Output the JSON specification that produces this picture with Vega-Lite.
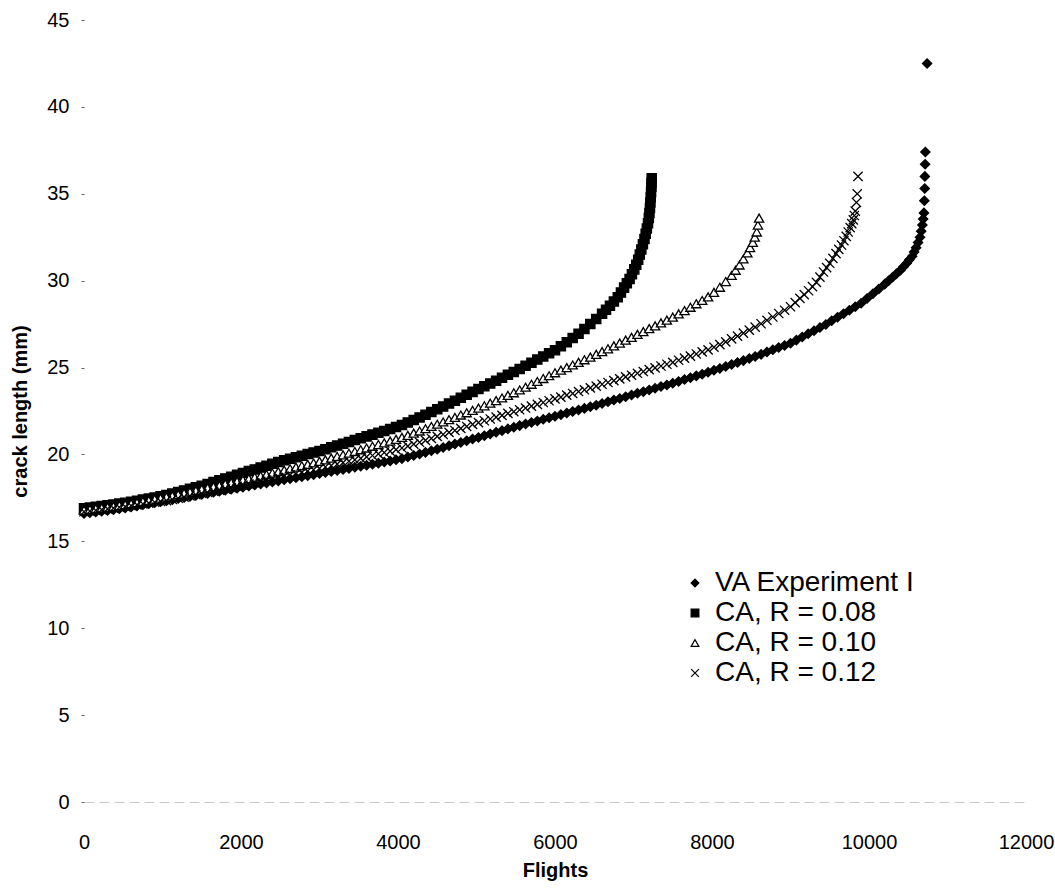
{
  "$schema": "https://vega.github.io/schema/vega-lite/v6.json",
  "width": 942,
  "height": 782,
  "autosize": {"type": "none"},
  "padding": {"left": 84, "top": 20, "right": 29, "bottom": 87},
  "background": "white",
  "config": {
    "view": {"stroke": null},
    "font": "Liberation Sans",
    "axis": {"labelFont": "Liberation Sans", "titleFont": "Liberation Sans", "labelColor": "black", "titleColor": "black", "grid": false},
    "legend": {"labelFont": "Liberation Sans"}
  },
  "data": {"values": [
{"series":"VA Experiment I","flights":0,"crack":16.60},{"series":"VA Experiment I","flights":75,"crack":16.64},{"series":"VA Experiment I","flights":150,"crack":16.69},{"series":"VA Experiment I","flights":225,"crack":16.73},{"series":"VA Experiment I","flights":300,"crack":16.78},{"series":"VA Experiment I","flights":375,"crack":16.82},{"series":"VA Experiment I","flights":450,"crack":16.87},{"series":"VA Experiment I","flights":525,"crack":16.92},{"series":"VA Experiment I","flights":600,"crack":16.98},{"series":"VA Experiment I","flights":675,"crack":17.04},{"series":"VA Experiment I","flights":750,"crack":17.10},{"series":"VA Experiment I","flights":825,"crack":17.16},{"series":"VA Experiment I","flights":900,"crack":17.22},{"series":"VA Experiment I","flights":975,"crack":17.28},{"series":"VA Experiment I","flights":1050,"crack":17.34},{"series":"VA Experiment I","flights":1125,"crack":17.40},{"series":"VA Experiment I","flights":1200,"crack":17.46},{"series":"VA Experiment I","flights":1275,"crack":17.52},{"series":"VA Experiment I","flights":1350,"crack":17.58},{"series":"VA Experiment I","flights":1425,"crack":17.64},{"series":"VA Experiment I","flights":1500,"crack":17.70},{"series":"VA Experiment I","flights":1575,"crack":17.76},{"series":"VA Experiment I","flights":1650,"crack":17.82},{"series":"VA Experiment I","flights":1725,"crack":17.88},{"series":"VA Experiment I","flights":1800,"crack":17.94},{"series":"VA Experiment I","flights":1875,"crack":18.00},{"series":"VA Experiment I","flights":1950,"crack":18.06},{"series":"VA Experiment I","flights":2025,"crack":18.12},{"series":"VA Experiment I","flights":2100,"crack":18.18},{"series":"VA Experiment I","flights":2175,"crack":18.24},{"series":"VA Experiment I","flights":2250,"crack":18.30},{"series":"VA Experiment I","flights":2325,"crack":18.36},{"series":"VA Experiment I","flights":2400,"crack":18.42},{"series":"VA Experiment I","flights":2475,"crack":18.48},{"series":"VA Experiment I","flights":2550,"crack":18.54},{"series":"VA Experiment I","flights":2625,"crack":18.60},{"series":"VA Experiment I","flights":2700,"crack":18.66},{"series":"VA Experiment I","flights":2775,"crack":18.72},{"series":"VA Experiment I","flights":2850,"crack":18.78},{"series":"VA Experiment I","flights":2925,"crack":18.84},{"series":"VA Experiment I","flights":3000,"crack":18.90},{"series":"VA Experiment I","flights":3075,"crack":18.96},{"series":"VA Experiment I","flights":3150,"crack":19.02},{"series":"VA Experiment I","flights":3225,"crack":19.08},{"series":"VA Experiment I","flights":3300,"crack":19.14},{"series":"VA Experiment I","flights":3375,"crack":19.20},{"series":"VA Experiment I","flights":3450,"crack":19.26},{"series":"VA Experiment I","flights":3525,"crack":19.32},{"series":"VA Experiment I","flights":3600,"crack":19.38},{"series":"VA Experiment I","flights":3675,"crack":19.44},{"series":"VA Experiment I","flights":3750,"crack":19.50},{"series":"VA Experiment I","flights":3825,"crack":19.56},{"series":"VA Experiment I","flights":3900,"crack":19.62},{"series":"VA Experiment I","flights":3975,"crack":19.69},{"series":"VA Experiment I","flights":4050,"crack":19.76},{"series":"VA Experiment I","flights":4125,"crack":19.85},{"series":"VA Experiment I","flights":4200,"crack":19.94},{"series":"VA Experiment I","flights":4275,"crack":20.03},{"series":"VA Experiment I","flights":4350,"crack":20.12},{"series":"VA Experiment I","flights":4425,"crack":20.21},{"series":"VA Experiment I","flights":4500,"crack":20.30},{"series":"VA Experiment I","flights":4575,"crack":20.40},{"series":"VA Experiment I","flights":4650,"crack":20.50},{"series":"VA Experiment I","flights":4725,"crack":20.60},{"series":"VA Experiment I","flights":4800,"crack":20.69},{"series":"VA Experiment I","flights":4875,"crack":20.79},{"series":"VA Experiment I","flights":4950,"crack":20.89},{"series":"VA Experiment I","flights":5025,"crack":20.98},{"series":"VA Experiment I","flights":5100,"crack":21.08},{"series":"VA Experiment I","flights":5175,"crack":21.18},{"series":"VA Experiment I","flights":5250,"crack":21.28},{"series":"VA Experiment I","flights":5325,"crack":21.37},{"series":"VA Experiment I","flights":5400,"crack":21.47},{"series":"VA Experiment I","flights":5475,"crack":21.56},{"series":"VA Experiment I","flights":5550,"crack":21.66},{"series":"VA Experiment I","flights":5625,"crack":21.75},{"series":"VA Experiment I","flights":5700,"crack":21.84},{"series":"VA Experiment I","flights":5775,"crack":21.93},{"series":"VA Experiment I","flights":5850,"crack":22.02},{"series":"VA Experiment I","flights":5925,"crack":22.11},{"series":"VA Experiment I","flights":6000,"crack":22.20},{"series":"VA Experiment I","flights":6075,"crack":22.29},{"series":"VA Experiment I","flights":6150,"crack":22.38},{"series":"VA Experiment I","flights":6225,"crack":22.47},{"series":"VA Experiment I","flights":6300,"crack":22.56},{"series":"VA Experiment I","flights":6375,"crack":22.65},{"series":"VA Experiment I","flights":6450,"crack":22.74},{"series":"VA Experiment I","flights":6525,"crack":22.83},{"series":"VA Experiment I","flights":6600,"crack":22.93},{"series":"VA Experiment I","flights":6675,"crack":23.03},{"series":"VA Experiment I","flights":6750,"crack":23.13},{"series":"VA Experiment I","flights":6825,"crack":23.22},{"series":"VA Experiment I","flights":6900,"crack":23.32},{"series":"VA Experiment I","flights":6975,"crack":23.42},{"series":"VA Experiment I","flights":7050,"crack":23.52},{"series":"VA Experiment I","flights":7125,"crack":23.61},{"series":"VA Experiment I","flights":7200,"crack":23.71},{"series":"VA Experiment I","flights":7275,"crack":23.81},{"series":"VA Experiment I","flights":7350,"crack":23.91},{"series":"VA Experiment I","flights":7425,"crack":24.00},{"series":"VA Experiment I","flights":7500,"crack":24.10},{"series":"VA Experiment I","flights":7575,"crack":24.20},{"series":"VA Experiment I","flights":7650,"crack":24.31},{"series":"VA Experiment I","flights":7725,"crack":24.41},{"series":"VA Experiment I","flights":7800,"crack":24.52},{"series":"VA Experiment I","flights":7875,"crack":24.62},{"series":"VA Experiment I","flights":7950,"crack":24.73},{"series":"VA Experiment I","flights":8025,"crack":24.84},{"series":"VA Experiment I","flights":8100,"crack":24.95},{"series":"VA Experiment I","flights":8175,"crack":25.06},{"series":"VA Experiment I","flights":8250,"crack":25.18},{"series":"VA Experiment I","flights":8325,"crack":25.29},{"series":"VA Experiment I","flights":8400,"crack":25.40},{"series":"VA Experiment I","flights":8475,"crack":25.52},{"series":"VA Experiment I","flights":8550,"crack":25.64},{"series":"VA Experiment I","flights":8625,"crack":25.76},{"series":"VA Experiment I","flights":8700,"crack":25.89},{"series":"VA Experiment I","flights":8775,"crack":26.02},{"series":"VA Experiment I","flights":8850,"crack":26.15},{"series":"VA Experiment I","flights":8925,"crack":26.27},{"series":"VA Experiment I","flights":9000,"crack":26.40},{"series":"VA Experiment I","flights":9075,"crack":26.58},{"series":"VA Experiment I","flights":9150,"crack":26.76},{"series":"VA Experiment I","flights":9225,"crack":26.94},{"series":"VA Experiment I","flights":9300,"crack":27.12},{"series":"VA Experiment I","flights":9375,"crack":27.30},{"series":"VA Experiment I","flights":9450,"crack":27.48},{"series":"VA Experiment I","flights":9525,"crack":27.69},{"series":"VA Experiment I","flights":9600,"crack":27.90},{"series":"VA Experiment I","flights":9675,"crack":28.10},{"series":"VA Experiment I","flights":9750,"crack":28.30},{"series":"VA Experiment I","flights":9825,"crack":28.50},{"series":"VA Experiment I","flights":9900,"crack":28.70},{"series":"VA Experiment I","flights":9975,"crack":28.97},{"series":"VA Experiment I","flights":10050,"crack":29.25},{"series":"VA Experiment I","flights":10125,"crack":29.52},{"series":"VA Experiment I","flights":10200,"crack":29.80},{"series":"VA Experiment I","flights":10250,"crack":30.00},{"series":"VA Experiment I","flights":10300,"crack":30.20},{"series":"VA Experiment I","flights":10350,"crack":30.40},{"series":"VA Experiment I","flights":10400,"crack":30.60},{"series":"VA Experiment I","flights":10440,"crack":30.80},{"series":"VA Experiment I","flights":10480,"crack":31.00},{"series":"VA Experiment I","flights":10515,"crack":31.20},{"series":"VA Experiment I","flights":10550,"crack":31.40},{"series":"VA Experiment I","flights":10575,"crack":31.65},{"series":"VA Experiment I","flights":10600,"crack":31.90},{"series":"VA Experiment I","flights":10625,"crack":32.20},{"series":"VA Experiment I","flights":10650,"crack":32.50},{"series":"VA Experiment I","flights":10665,"crack":32.85},{"series":"VA Experiment I","flights":10680,"crack":33.20},{"series":"VA Experiment I","flights":10690,"crack":33.55},{"series":"VA Experiment I","flights":10700,"crack":33.90},{"series":"VA Experiment I","flights":10705,"crack":34.60},{"series":"VA Experiment I","flights":10710,"crack":35.30},{"series":"VA Experiment I","flights":10712,"crack":36.00},{"series":"VA Experiment I","flights":10715,"crack":36.70},{"series":"VA Experiment I","flights":10718,"crack":37.40},{"series":"VA Experiment I","flights":10740,"crack":42.50},
{"series":"CA, R = 0.08","flights":0,"crack":16.90},{"series":"CA, R = 0.08","flights":75,"crack":16.94},{"series":"CA, R = 0.08","flights":150,"crack":16.99},{"series":"CA, R = 0.08","flights":225,"crack":17.03},{"series":"CA, R = 0.08","flights":300,"crack":17.08},{"series":"CA, R = 0.08","flights":375,"crack":17.12},{"series":"CA, R = 0.08","flights":450,"crack":17.17},{"series":"CA, R = 0.08","flights":525,"crack":17.22},{"series":"CA, R = 0.08","flights":600,"crack":17.28},{"series":"CA, R = 0.08","flights":675,"crack":17.34},{"series":"CA, R = 0.08","flights":750,"crack":17.40},{"series":"CA, R = 0.08","flights":825,"crack":17.46},{"series":"CA, R = 0.08","flights":900,"crack":17.52},{"series":"CA, R = 0.08","flights":975,"crack":17.59},{"series":"CA, R = 0.08","flights":1050,"crack":17.66},{"series":"CA, R = 0.08","flights":1125,"crack":17.75},{"series":"CA, R = 0.08","flights":1200,"crack":17.84},{"series":"CA, R = 0.08","flights":1275,"crack":17.93},{"series":"CA, R = 0.08","flights":1350,"crack":18.02},{"series":"CA, R = 0.08","flights":1425,"crack":18.11},{"series":"CA, R = 0.08","flights":1500,"crack":18.20},{"series":"CA, R = 0.08","flights":1575,"crack":18.30},{"series":"CA, R = 0.08","flights":1650,"crack":18.41},{"series":"CA, R = 0.08","flights":1725,"crack":18.51},{"series":"CA, R = 0.08","flights":1800,"crack":18.62},{"series":"CA, R = 0.08","flights":1875,"crack":18.72},{"series":"CA, R = 0.08","flights":1950,"crack":18.83},{"series":"CA, R = 0.08","flights":2025,"crack":18.93},{"series":"CA, R = 0.08","flights":2100,"crack":19.04},{"series":"CA, R = 0.08","flights":2175,"crack":19.14},{"series":"CA, R = 0.08","flights":2250,"crack":19.25},{"series":"CA, R = 0.08","flights":2325,"crack":19.35},{"series":"CA, R = 0.08","flights":2400,"crack":19.46},{"series":"CA, R = 0.08","flights":2475,"crack":19.56},{"series":"CA, R = 0.08","flights":2550,"crack":19.66},{"series":"CA, R = 0.08","flights":2625,"crack":19.75},{"series":"CA, R = 0.08","flights":2700,"crack":19.84},{"series":"CA, R = 0.08","flights":2775,"crack":19.93},{"series":"CA, R = 0.08","flights":2850,"crack":20.02},{"series":"CA, R = 0.08","flights":2925,"crack":20.11},{"series":"CA, R = 0.08","flights":3000,"crack":20.20},{"series":"CA, R = 0.08","flights":3075,"crack":20.30},{"series":"CA, R = 0.08","flights":3150,"crack":20.41},{"series":"CA, R = 0.08","flights":3225,"crack":20.51},{"series":"CA, R = 0.08","flights":3300,"crack":20.62},{"series":"CA, R = 0.08","flights":3375,"crack":20.72},{"series":"CA, R = 0.08","flights":3450,"crack":20.83},{"series":"CA, R = 0.08","flights":3525,"crack":20.93},{"series":"CA, R = 0.08","flights":3600,"crack":21.04},{"series":"CA, R = 0.08","flights":3675,"crack":21.14},{"series":"CA, R = 0.08","flights":3750,"crack":21.25},{"series":"CA, R = 0.08","flights":3825,"crack":21.35},{"series":"CA, R = 0.08","flights":3900,"crack":21.46},{"series":"CA, R = 0.08","flights":3975,"crack":21.58},{"series":"CA, R = 0.08","flights":4050,"crack":21.70},{"series":"CA, R = 0.08","flights":4125,"crack":21.84},{"series":"CA, R = 0.08","flights":4200,"crack":21.98},{"series":"CA, R = 0.08","flights":4275,"crack":22.13},{"series":"CA, R = 0.08","flights":4350,"crack":22.28},{"series":"CA, R = 0.08","flights":4425,"crack":22.44},{"series":"CA, R = 0.08","flights":4500,"crack":22.60},{"series":"CA, R = 0.08","flights":4575,"crack":22.76},{"series":"CA, R = 0.08","flights":4650,"crack":22.93},{"series":"CA, R = 0.08","flights":4725,"crack":23.09},{"series":"CA, R = 0.08","flights":4800,"crack":23.26},{"series":"CA, R = 0.08","flights":4875,"crack":23.43},{"series":"CA, R = 0.08","flights":4950,"crack":23.60},{"series":"CA, R = 0.08","flights":5025,"crack":23.76},{"series":"CA, R = 0.08","flights":5100,"crack":23.92},{"series":"CA, R = 0.08","flights":5175,"crack":24.08},{"series":"CA, R = 0.08","flights":5250,"crack":24.24},{"series":"CA, R = 0.08","flights":5325,"crack":24.41},{"series":"CA, R = 0.08","flights":5400,"crack":24.58},{"series":"CA, R = 0.08","flights":5475,"crack":24.75},{"series":"CA, R = 0.08","flights":5550,"crack":24.92},{"series":"CA, R = 0.08","flights":5625,"crack":25.10},{"series":"CA, R = 0.08","flights":5700,"crack":25.28},{"series":"CA, R = 0.08","flights":5775,"crack":25.46},{"series":"CA, R = 0.08","flights":5850,"crack":25.64},{"series":"CA, R = 0.08","flights":5925,"crack":25.82},{"series":"CA, R = 0.08","flights":6000,"crack":26.00},{"series":"CA, R = 0.08","flights":6075,"crack":26.22},{"series":"CA, R = 0.08","flights":6150,"crack":26.45},{"series":"CA, R = 0.08","flights":6225,"crack":26.70},{"series":"CA, R = 0.08","flights":6300,"crack":26.95},{"series":"CA, R = 0.08","flights":6375,"crack":27.22},{"series":"CA, R = 0.08","flights":6450,"crack":27.50},{"series":"CA, R = 0.08","flights":6525,"crack":27.80},{"series":"CA, R = 0.08","flights":6600,"crack":28.10},{"series":"CA, R = 0.08","flights":6650,"crack":28.32},{"series":"CA, R = 0.08","flights":6700,"crack":28.55},{"series":"CA, R = 0.08","flights":6750,"crack":28.80},{"series":"CA, R = 0.08","flights":6800,"crack":29.05},{"series":"CA, R = 0.08","flights":6840,"crack":29.32},{"series":"CA, R = 0.08","flights":6880,"crack":29.60},{"series":"CA, R = 0.08","flights":6915,"crack":29.85},{"series":"CA, R = 0.08","flights":6950,"crack":30.10},{"series":"CA, R = 0.08","flights":6980,"crack":30.37},{"series":"CA, R = 0.08","flights":7010,"crack":30.65},{"series":"CA, R = 0.08","flights":7035,"crack":30.92},{"series":"CA, R = 0.08","flights":7060,"crack":31.20},{"series":"CA, R = 0.08","flights":7080,"crack":31.50},{"series":"CA, R = 0.08","flights":7100,"crack":31.80},{"series":"CA, R = 0.08","flights":7120,"crack":32.10},{"series":"CA, R = 0.08","flights":7140,"crack":32.40},{"series":"CA, R = 0.08","flights":7155,"crack":32.70},{"series":"CA, R = 0.08","flights":7170,"crack":33.00},{"series":"CA, R = 0.08","flights":7185,"crack":33.30},{"series":"CA, R = 0.08","flights":7195,"crack":33.60},{"series":"CA, R = 0.08","flights":7203,"crack":33.90},{"series":"CA, R = 0.08","flights":7210,"crack":34.20},{"series":"CA, R = 0.08","flights":7215,"crack":34.50},{"series":"CA, R = 0.08","flights":7220,"crack":34.80},{"series":"CA, R = 0.08","flights":7224,"crack":35.10},{"series":"CA, R = 0.08","flights":7228,"crack":35.40},{"series":"CA, R = 0.08","flights":7230,"crack":35.65},{"series":"CA, R = 0.08","flights":7232,"crack":35.90},
{"series":"CA, R = 0.10","flights":0,"crack":16.80},{"series":"CA, R = 0.10","flights":75,"crack":16.84},{"series":"CA, R = 0.10","flights":150,"crack":16.88},{"series":"CA, R = 0.10","flights":225,"crack":16.92},{"series":"CA, R = 0.10","flights":300,"crack":16.97},{"series":"CA, R = 0.10","flights":375,"crack":17.01},{"series":"CA, R = 0.10","flights":450,"crack":17.06},{"series":"CA, R = 0.10","flights":525,"crack":17.11},{"series":"CA, R = 0.10","flights":600,"crack":17.17},{"series":"CA, R = 0.10","flights":675,"crack":17.23},{"series":"CA, R = 0.10","flights":750,"crack":17.30},{"series":"CA, R = 0.10","flights":825,"crack":17.36},{"series":"CA, R = 0.10","flights":900,"crack":17.43},{"series":"CA, R = 0.10","flights":975,"crack":17.49},{"series":"CA, R = 0.10","flights":1050,"crack":17.55},{"series":"CA, R = 0.10","flights":1125,"crack":17.62},{"series":"CA, R = 0.10","flights":1200,"crack":17.70},{"series":"CA, R = 0.10","flights":1275,"crack":17.77},{"series":"CA, R = 0.10","flights":1350,"crack":17.85},{"series":"CA, R = 0.10","flights":1425,"crack":17.92},{"series":"CA, R = 0.10","flights":1500,"crack":18.00},{"series":"CA, R = 0.10","flights":1575,"crack":18.07},{"series":"CA, R = 0.10","flights":1650,"crack":18.15},{"series":"CA, R = 0.10","flights":1725,"crack":18.22},{"series":"CA, R = 0.10","flights":1800,"crack":18.30},{"series":"CA, R = 0.10","flights":1875,"crack":18.37},{"series":"CA, R = 0.10","flights":1950,"crack":18.45},{"series":"CA, R = 0.10","flights":2025,"crack":18.53},{"series":"CA, R = 0.10","flights":2100,"crack":18.61},{"series":"CA, R = 0.10","flights":2175,"crack":18.69},{"series":"CA, R = 0.10","flights":2250,"crack":18.77},{"series":"CA, R = 0.10","flights":2325,"crack":18.85},{"series":"CA, R = 0.10","flights":2400,"crack":18.93},{"series":"CA, R = 0.10","flights":2475,"crack":19.01},{"series":"CA, R = 0.10","flights":2550,"crack":19.10},{"series":"CA, R = 0.10","flights":2625,"crack":19.18},{"series":"CA, R = 0.10","flights":2700,"crack":19.27},{"series":"CA, R = 0.10","flights":2775,"crack":19.35},{"series":"CA, R = 0.10","flights":2850,"crack":19.43},{"series":"CA, R = 0.10","flights":2925,"crack":19.51},{"series":"CA, R = 0.10","flights":3000,"crack":19.60},{"series":"CA, R = 0.10","flights":3075,"crack":19.69},{"series":"CA, R = 0.10","flights":3150,"crack":19.79},{"series":"CA, R = 0.10","flights":3225,"crack":19.88},{"series":"CA, R = 0.10","flights":3300,"crack":19.98},{"series":"CA, R = 0.10","flights":3375,"crack":20.07},{"series":"CA, R = 0.10","flights":3450,"crack":20.17},{"series":"CA, R = 0.10","flights":3525,"crack":20.27},{"series":"CA, R = 0.10","flights":3600,"crack":20.37},{"series":"CA, R = 0.10","flights":3675,"crack":20.47},{"series":"CA, R = 0.10","flights":3750,"crack":20.57},{"series":"CA, R = 0.10","flights":3825,"crack":20.67},{"series":"CA, R = 0.10","flights":3900,"crack":20.77},{"series":"CA, R = 0.10","flights":3975,"crack":20.87},{"series":"CA, R = 0.10","flights":4050,"crack":20.98},{"series":"CA, R = 0.10","flights":4125,"crack":21.10},{"series":"CA, R = 0.10","flights":4200,"crack":21.23},{"series":"CA, R = 0.10","flights":4275,"crack":21.35},{"series":"CA, R = 0.10","flights":4350,"crack":21.48},{"series":"CA, R = 0.10","flights":4425,"crack":21.61},{"series":"CA, R = 0.10","flights":4500,"crack":21.74},{"series":"CA, R = 0.10","flights":4575,"crack":21.87},{"series":"CA, R = 0.10","flights":4650,"crack":22.00},{"series":"CA, R = 0.10","flights":4725,"crack":22.13},{"series":"CA, R = 0.10","flights":4800,"crack":22.27},{"series":"CA, R = 0.10","flights":4875,"crack":22.40},{"series":"CA, R = 0.10","flights":4950,"crack":22.54},{"series":"CA, R = 0.10","flights":5025,"crack":22.67},{"series":"CA, R = 0.10","flights":5100,"crack":22.80},{"series":"CA, R = 0.10","flights":5175,"crack":22.95},{"series":"CA, R = 0.10","flights":5250,"crack":23.10},{"series":"CA, R = 0.10","flights":5325,"crack":23.25},{"series":"CA, R = 0.10","flights":5400,"crack":23.40},{"series":"CA, R = 0.10","flights":5475,"crack":23.55},{"series":"CA, R = 0.10","flights":5550,"crack":23.71},{"series":"CA, R = 0.10","flights":5625,"crack":23.87},{"series":"CA, R = 0.10","flights":5700,"crack":24.04},{"series":"CA, R = 0.10","flights":5775,"crack":24.20},{"series":"CA, R = 0.10","flights":5850,"crack":24.37},{"series":"CA, R = 0.10","flights":5925,"crack":24.53},{"series":"CA, R = 0.10","flights":6000,"crack":24.70},{"series":"CA, R = 0.10","flights":6075,"crack":24.85},{"series":"CA, R = 0.10","flights":6150,"crack":25.00},{"series":"CA, R = 0.10","flights":6225,"crack":25.15},{"series":"CA, R = 0.10","flights":6300,"crack":25.30},{"series":"CA, R = 0.10","flights":6375,"crack":25.45},{"series":"CA, R = 0.10","flights":6450,"crack":25.60},{"series":"CA, R = 0.10","flights":6525,"crack":25.76},{"series":"CA, R = 0.10","flights":6600,"crack":25.92},{"series":"CA, R = 0.10","flights":6675,"crack":26.08},{"series":"CA, R = 0.10","flights":6750,"crack":26.25},{"series":"CA, R = 0.10","flights":6825,"crack":26.41},{"series":"CA, R = 0.10","flights":6900,"crack":26.58},{"series":"CA, R = 0.10","flights":6975,"crack":26.74},{"series":"CA, R = 0.10","flights":7050,"crack":26.91},{"series":"CA, R = 0.10","flights":7125,"crack":27.07},{"series":"CA, R = 0.10","flights":7200,"crack":27.24},{"series":"CA, R = 0.10","flights":7275,"crack":27.40},{"series":"CA, R = 0.10","flights":7350,"crack":27.57},{"series":"CA, R = 0.10","flights":7425,"crack":27.73},{"series":"CA, R = 0.10","flights":7500,"crack":27.90},{"series":"CA, R = 0.10","flights":7575,"crack":28.09},{"series":"CA, R = 0.10","flights":7650,"crack":28.28},{"series":"CA, R = 0.10","flights":7725,"crack":28.47},{"series":"CA, R = 0.10","flights":7800,"crack":28.67},{"series":"CA, R = 0.10","flights":7875,"crack":28.86},{"series":"CA, R = 0.10","flights":7950,"crack":29.07},{"series":"CA, R = 0.10","flights":8025,"crack":29.33},{"series":"CA, R = 0.10","flights":8100,"crack":29.62},{"series":"CA, R = 0.10","flights":8175,"crack":29.95},{"series":"CA, R = 0.10","flights":8250,"crack":30.30},{"series":"CA, R = 0.10","flights":8300,"crack":30.60},{"series":"CA, R = 0.10","flights":8350,"crack":30.90},{"series":"CA, R = 0.10","flights":8400,"crack":31.25},{"series":"CA, R = 0.10","flights":8450,"crack":31.60},{"series":"CA, R = 0.10","flights":8485,"crack":31.90},{"series":"CA, R = 0.10","flights":8520,"crack":32.20},{"series":"CA, R = 0.10","flights":8545,"crack":32.50},{"series":"CA, R = 0.10","flights":8570,"crack":32.80},{"series":"CA, R = 0.10","flights":8585,"crack":33.20},{"series":"CA, R = 0.10","flights":8600,"crack":33.60},
{"series":"CA, R = 0.12","flights":0,"crack":16.70},{"series":"CA, R = 0.12","flights":75,"crack":16.74},{"series":"CA, R = 0.12","flights":150,"crack":16.78},{"series":"CA, R = 0.12","flights":225,"crack":16.82},{"series":"CA, R = 0.12","flights":300,"crack":16.87},{"series":"CA, R = 0.12","flights":375,"crack":16.91},{"series":"CA, R = 0.12","flights":450,"crack":16.96},{"series":"CA, R = 0.12","flights":525,"crack":17.00},{"series":"CA, R = 0.12","flights":600,"crack":17.05},{"series":"CA, R = 0.12","flights":675,"crack":17.10},{"series":"CA, R = 0.12","flights":750,"crack":17.15},{"series":"CA, R = 0.12","flights":825,"crack":17.20},{"series":"CA, R = 0.12","flights":900,"crack":17.25},{"series":"CA, R = 0.12","flights":975,"crack":17.30},{"series":"CA, R = 0.12","flights":1050,"crack":17.34},{"series":"CA, R = 0.12","flights":1125,"crack":17.41},{"series":"CA, R = 0.12","flights":1200,"crack":17.48},{"series":"CA, R = 0.12","flights":1275,"crack":17.54},{"series":"CA, R = 0.12","flights":1350,"crack":17.61},{"series":"CA, R = 0.12","flights":1425,"crack":17.68},{"series":"CA, R = 0.12","flights":1500,"crack":17.75},{"series":"CA, R = 0.12","flights":1575,"crack":17.81},{"series":"CA, R = 0.12","flights":1650,"crack":17.88},{"series":"CA, R = 0.12","flights":1725,"crack":17.95},{"series":"CA, R = 0.12","flights":1800,"crack":18.02},{"series":"CA, R = 0.12","flights":1875,"crack":18.09},{"series":"CA, R = 0.12","flights":1950,"crack":18.16},{"series":"CA, R = 0.12","flights":2025,"crack":18.23},{"series":"CA, R = 0.12","flights":2100,"crack":18.30},{"series":"CA, R = 0.12","flights":2175,"crack":18.37},{"series":"CA, R = 0.12","flights":2250,"crack":18.45},{"series":"CA, R = 0.12","flights":2325,"crack":18.52},{"series":"CA, R = 0.12","flights":2400,"crack":18.60},{"series":"CA, R = 0.12","flights":2475,"crack":18.67},{"series":"CA, R = 0.12","flights":2550,"crack":18.75},{"series":"CA, R = 0.12","flights":2625,"crack":18.82},{"series":"CA, R = 0.12","flights":2700,"crack":18.90},{"series":"CA, R = 0.12","flights":2775,"crack":18.97},{"series":"CA, R = 0.12","flights":2850,"crack":19.05},{"series":"CA, R = 0.12","flights":2925,"crack":19.12},{"series":"CA, R = 0.12","flights":3000,"crack":19.20},{"series":"CA, R = 0.12","flights":3075,"crack":19.28},{"series":"CA, R = 0.12","flights":3150,"crack":19.36},{"series":"CA, R = 0.12","flights":3225,"crack":19.44},{"series":"CA, R = 0.12","flights":3300,"crack":19.53},{"series":"CA, R = 0.12","flights":3375,"crack":19.61},{"series":"CA, R = 0.12","flights":3450,"crack":19.69},{"series":"CA, R = 0.12","flights":3525,"crack":19.77},{"series":"CA, R = 0.12","flights":3600,"crack":19.86},{"series":"CA, R = 0.12","flights":3675,"crack":19.94},{"series":"CA, R = 0.12","flights":3750,"crack":20.03},{"series":"CA, R = 0.12","flights":3825,"crack":20.11},{"series":"CA, R = 0.12","flights":3900,"crack":20.19},{"series":"CA, R = 0.12","flights":3975,"crack":20.28},{"series":"CA, R = 0.12","flights":4050,"crack":20.37},{"series":"CA, R = 0.12","flights":4125,"crack":20.48},{"series":"CA, R = 0.12","flights":4200,"crack":20.59},{"series":"CA, R = 0.12","flights":4275,"crack":20.70},{"series":"CA, R = 0.12","flights":4350,"crack":20.81},{"series":"CA, R = 0.12","flights":4425,"crack":20.92},{"series":"CA, R = 0.12","flights":4500,"crack":21.04},{"series":"CA, R = 0.12","flights":4575,"crack":21.15},{"series":"CA, R = 0.12","flights":4650,"crack":21.27},{"series":"CA, R = 0.12","flights":4725,"crack":21.38},{"series":"CA, R = 0.12","flights":4800,"crack":21.50},{"series":"CA, R = 0.12","flights":4875,"crack":21.61},{"series":"CA, R = 0.12","flights":4950,"crack":21.73},{"series":"CA, R = 0.12","flights":5025,"crack":21.83},{"series":"CA, R = 0.12","flights":5100,"crack":21.94},{"series":"CA, R = 0.12","flights":5175,"crack":22.04},{"series":"CA, R = 0.12","flights":5250,"crack":22.15},{"series":"CA, R = 0.12","flights":5325,"crack":22.25},{"series":"CA, R = 0.12","flights":5400,"crack":22.36},{"series":"CA, R = 0.12","flights":5475,"crack":22.46},{"series":"CA, R = 0.12","flights":5550,"crack":22.57},{"series":"CA, R = 0.12","flights":5625,"crack":22.67},{"series":"CA, R = 0.12","flights":5700,"crack":22.78},{"series":"CA, R = 0.12","flights":5775,"crack":22.88},{"series":"CA, R = 0.12","flights":5850,"crack":22.99},{"series":"CA, R = 0.12","flights":5925,"crack":23.09},{"series":"CA, R = 0.12","flights":6000,"crack":23.20},{"series":"CA, R = 0.12","flights":6075,"crack":23.30},{"series":"CA, R = 0.12","flights":6150,"crack":23.41},{"series":"CA, R = 0.12","flights":6225,"crack":23.51},{"series":"CA, R = 0.12","flights":6300,"crack":23.62},{"series":"CA, R = 0.12","flights":6375,"crack":23.72},{"series":"CA, R = 0.12","flights":6450,"crack":23.83},{"series":"CA, R = 0.12","flights":6525,"crack":23.93},{"series":"CA, R = 0.12","flights":6600,"crack":24.04},{"series":"CA, R = 0.12","flights":6675,"crack":24.14},{"series":"CA, R = 0.12","flights":6750,"crack":24.25},{"series":"CA, R = 0.12","flights":6825,"crack":24.35},{"series":"CA, R = 0.12","flights":6900,"crack":24.46},{"series":"CA, R = 0.12","flights":6975,"crack":24.56},{"series":"CA, R = 0.12","flights":7050,"crack":24.67},{"series":"CA, R = 0.12","flights":7125,"crack":24.77},{"series":"CA, R = 0.12","flights":7200,"crack":24.88},{"series":"CA, R = 0.12","flights":7275,"crack":24.98},{"series":"CA, R = 0.12","flights":7350,"crack":25.09},{"series":"CA, R = 0.12","flights":7425,"crack":25.19},{"series":"CA, R = 0.12","flights":7500,"crack":25.30},{"series":"CA, R = 0.12","flights":7575,"crack":25.42},{"series":"CA, R = 0.12","flights":7650,"crack":25.54},{"series":"CA, R = 0.12","flights":7725,"crack":25.66},{"series":"CA, R = 0.12","flights":7800,"crack":25.78},{"series":"CA, R = 0.12","flights":7875,"crack":25.90},{"series":"CA, R = 0.12","flights":7950,"crack":26.02},{"series":"CA, R = 0.12","flights":8025,"crack":26.17},{"series":"CA, R = 0.12","flights":8100,"crack":26.32},{"series":"CA, R = 0.12","flights":8175,"crack":26.48},{"series":"CA, R = 0.12","flights":8250,"crack":26.65},{"series":"CA, R = 0.12","flights":8325,"crack":26.81},{"series":"CA, R = 0.12","flights":8400,"crack":26.98},{"series":"CA, R = 0.12","flights":8475,"crack":27.15},{"series":"CA, R = 0.12","flights":8550,"crack":27.33},{"series":"CA, R = 0.12","flights":8625,"crack":27.52},{"series":"CA, R = 0.12","flights":8700,"crack":27.72},{"series":"CA, R = 0.12","flights":8775,"crack":27.91},{"series":"CA, R = 0.12","flights":8850,"crack":28.11},{"series":"CA, R = 0.12","flights":8925,"crack":28.30},{"series":"CA, R = 0.12","flights":9000,"crack":28.50},{"series":"CA, R = 0.12","flights":9060,"crack":28.74},{"series":"CA, R = 0.12","flights":9120,"crack":28.98},{"series":"CA, R = 0.12","flights":9175,"crack":29.20},{"series":"CA, R = 0.12","flights":9230,"crack":29.42},{"series":"CA, R = 0.12","flights":9280,"crack":29.66},{"series":"CA, R = 0.12","flights":9330,"crack":29.90},{"series":"CA, R = 0.12","flights":9375,"crack":30.20},{"series":"CA, R = 0.12","flights":9420,"crack":30.50},{"series":"CA, R = 0.12","flights":9460,"crack":30.75},{"series":"CA, R = 0.12","flights":9500,"crack":31.00},{"series":"CA, R = 0.12","flights":9540,"crack":31.28},{"series":"CA, R = 0.12","flights":9580,"crack":31.56},{"series":"CA, R = 0.12","flights":9615,"crack":31.80},{"series":"CA, R = 0.12","flights":9650,"crack":32.05},{"series":"CA, R = 0.12","flights":9680,"crack":32.30},{"series":"CA, R = 0.12","flights":9710,"crack":32.55},{"series":"CA, R = 0.12","flights":9735,"crack":32.80},{"series":"CA, R = 0.12","flights":9760,"crack":33.05},{"series":"CA, R = 0.12","flights":9780,"crack":33.28},{"series":"CA, R = 0.12","flights":9800,"crack":33.50},{"series":"CA, R = 0.12","flights":9813,"crack":33.75},{"series":"CA, R = 0.12","flights":9825,"crack":34.00},{"series":"CA, R = 0.12","flights":9840,"crack":34.50},{"series":"CA, R = 0.12","flights":9850,"crack":35.00},{"series":"CA, R = 0.12","flights":9860,"crack":36.00}
  ]},
  "mark": {"type": "point", "strokeWidth": 1.3, "opacity": 1, "size": 85},
  "encoding": {
    "x": {
      "field": "flights", "type": "quantitative",
      "scale": {"domain": [0, 12000], "nice": false, "zero": true},
      "axis": {
        "title": "Flights", "titleFontSize": 20, "titleFontWeight": "bold", "titlePadding": 8,
        "values": [0, 2000, 4000, 6000, 8000, 10000, 12000], "format": "d",
        "labelFontSize": 20, "labelPadding": 30, "ticks": false,
        "domain": true, "domainColor": "#c8c8c8", "domainWidth": 1, "domainDash": [10, 5], "labelFlush": false
      }
    },
    "y": {
      "field": "crack", "type": "quantitative",
      "scale": {"domain": [0, 45], "nice": false},
      "axis": {
        "title": "crack length (mm)", "titleFontSize": 20, "titleFontWeight": "bold", "titlePadding": 16,
        "values": [0, 5, 10, 15, 20, 25, 30, 35, 40, 45],
        "labelFontSize": 20, "labelPadding": 12, "ticks": true, "tickSize": 3, "tickColor": "#666666",
        "domain": false, "labelFlush": false
      }
    },
    "shape": {
      "field": "series", "type": "nominal",
      "scale": {
        "domain": ["VA Experiment I", "CA, R = 0.08", "CA, R = 0.10", "CA, R = 0.12"],
        "range": ["diamond", "square", "triangle-up", "M-1,-1L1,1M1,-1L-1,1"]
      },
      "legend": {
        "title": null, "orient": "none", "legendX": 597, "legendY": 549,
        "labelFontSize": 28, "labelColor": "black", "labelLimit": 500, "symbolSize": 60, "symbolStrokeWidth": 1.2,
        "labelOffset": 6, "rowPadding": 2, "padding": 0
      }
    },
    "fill": {
      "field": "series", "type": "nominal",
      "scale": {
        "domain": ["VA Experiment I", "CA, R = 0.08", "CA, R = 0.10", "CA, R = 0.12"],
        "range": ["black", "black", "white", "black"]
      },
      "legend": {
        "title": null, "orient": "none", "legendX": 597, "legendY": 549,
        "labelFontSize": 28, "labelColor": "black", "labelLimit": 500, "symbolSize": 60, "symbolStrokeWidth": 1.2,
        "labelOffset": 6, "rowPadding": 2, "padding": 0
      }
    },
    "stroke": {
      "field": "series", "type": "nominal",
      "scale": {
        "domain": ["VA Experiment I", "CA, R = 0.08", "CA, R = 0.10", "CA, R = 0.12"],
        "range": ["black", "black", "black", "black"]
      },
      "legend": {
        "title": null, "orient": "none", "legendX": 597, "legendY": 549,
        "labelFontSize": 28, "labelColor": "black", "labelLimit": 500, "symbolSize": 60, "symbolStrokeWidth": 1.2,
        "labelOffset": 6, "rowPadding": 2, "padding": 0
      }
    }
  }
}
